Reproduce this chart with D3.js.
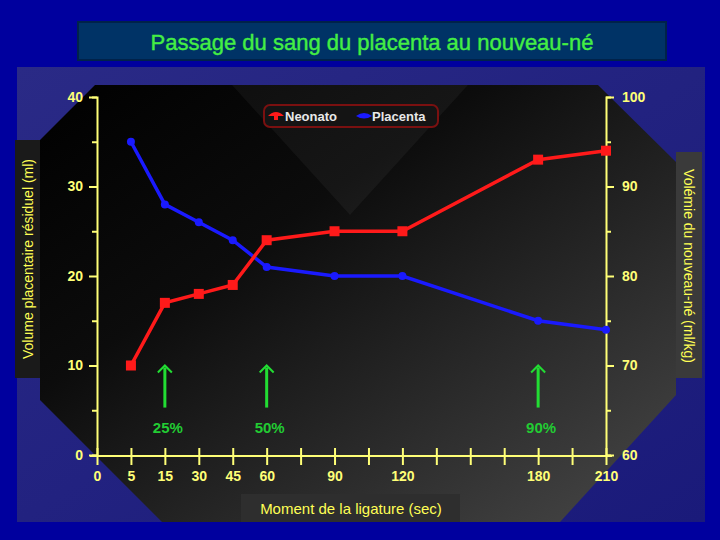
<!DOCTYPE html>
<html>
<head>
<meta charset="utf-8">
<script src="https://cdn.jsdelivr.net/npm/d3@7"></script>
<style>
  body { margin: 0; background: #00009e; }
  svg { display: block; font-family: Arial, "Liberation Sans", sans-serif; }
</style>
</head>
<body>
<div id="chart"></div>
<script>
// x categories (sec) - the axis is evenly spaced, not linear in time
var xCategories = [0, 5, 15, 30, 45, 60, 75, 90, 105, 120, 135, 150, 165, 180, 195, 210];
var xLabels = [0, 5, 15, 30, 45, 60, 90, 120, 180, 210];
var times = [5, 15, 30, 45, 60, 90, 120, 180, 210];
var neonato = [70, 77, 78, 79, 84, 85, 85, 93, 94];   // right axis (ml/kg)
var placenta = [35, 28, 26, 24, 21, 20, 20, 15, 14];  // left axis (ml)
var leftTicks = [0, 10, 20, 30, 40];
var rightTicks = [60, 70, 80, 90, 100];
var arrowTimes = [15, 60, 180];
var arrowLabels = ["25%", "50%", "90%"];

var width = 720, height = 540;

var svg = d3.select("#chart").append("svg")
    .attr("width", width)
    .attr("height", height);

var defs = svg.append("defs");
var grad = defs.append("linearGradient")
    .attr("id", "plotbg")
    .attr("x1", "0%").attr("y1", "0%")
    .attr("x2", "100%").attr("y2", "100%");
grad.append("stop").attr("offset", "0%").attr("stop-color", "#000000");
grad.append("stop").attr("offset", "35%").attr("stop-color", "#0c0c0c");
grad.append("stop").attr("offset", "100%").attr("stop-color", "#484848");

var panelGrad = defs.append("linearGradient")
    .attr("id", "panelbg")
    .attr("x1", "0%").attr("y1", "0%")
    .attr("x2", "100%").attr("y2", "100%");
panelGrad.append("stop").attr("offset", "0%").attr("stop-color", "#2a2a86");
panelGrad.append("stop").attr("offset", "100%").attr("stop-color", "#1a1a7a");

// background
svg.append("rect").attr("width", width).attr("height", height).attr("fill", "#00009e");

// title box
svg.append("rect")
    .attr("x", 78).attr("y", 22).attr("width", 588).attr("height", 38)
    .attr("fill", "#003366").attr("stroke", "#00224a").attr("stroke-width", 2);
svg.append("text")
    .attr("x", 372).attr("y", 50)
    .attr("text-anchor", "middle")
    .attr("fill", "#44ee44")
    .attr("font-size", 22)
    .attr("stroke", "#44ee44").attr("stroke-width", 0.4)
    .text("Passage du sang du placenta au nouveau-né");

// chart panel
svg.append("rect")
    .attr("x", 17).attr("y", 67).attr("width", 688).attr("height", 455)
    .attr("fill", "url(#panelbg)");

// dark octagon behind the plot
svg.append("polygon")
    .attr("points", "95,85 598,85 676,162 676,395 560,522 162,522 40,400 40,140")
    .attr("fill", "url(#plotbg)");

// lighter wedge behind the legend
svg.append("polygon")
    .attr("points", "232,85 468,85 350,215")
    .attr("fill", "#ffffff").attr("opacity", 0.045);

var x = d3.scalePoint().domain(xCategories).range([97, 606]);
var yLeft = d3.scaleLinear().domain([0, 40]).range([455, 97]);
var yRight = d3.scaleLinear().domain([60, 100]).range([455, 97]);

var axisColor = "#ffff77";

// left axis
var leftAxis = svg.append("g")
    .attr("transform", "translate(97,0)")
    .call(d3.axisLeft(yLeft).tickValues(d3.range(0, 41, 5)).tickSize(5)
        .tickFormat(function(d) { return leftTicks.indexOf(d) >= 0 ? d : ""; }));
leftAxis.selectAll(".tick line")
    .attr("x2", function(d) { return leftTicks.indexOf(d) >= 0 ? -8 : -5; });

// right axis
var rightAxis = svg.append("g")
    .attr("transform", "translate(606,0)")
    .call(d3.axisRight(yRight).tickValues(d3.range(60, 101, 5)).tickSize(5)
        .tickFormat(function(d) { return rightTicks.indexOf(d) >= 0 ? d : ""; }));
rightAxis.selectAll(".tick line")
    .attr("x2", function(d) { return rightTicks.indexOf(d) >= 0 ? 8 : 5; });

// bottom axis
var bottomAxis = svg.append("g")
    .attr("transform", "translate(0,456)")
    .call(d3.axisBottom(x).tickSize(9)
        .tickFormat(function(d) { return xLabels.indexOf(d) >= 0 ? d : ""; }));
bottomAxis.selectAll(".tick line").attr("y1", -8);
bottomAxis.select(".domain").attr("d", "M90,0H612");

[leftAxis, rightAxis, bottomAxis].forEach(function(g) {
  g.select(".domain").attr("stroke", axisColor).attr("stroke-width", 2);
  g.selectAll(".tick line").attr("stroke", axisColor).attr("stroke-width", 2);
  g.selectAll(".tick text")
      .attr("fill", axisColor)
      .attr("font-size", 14)
      .attr("font-weight", "bold")
      .attr("font-family", "Arial, 'Liberation Sans', sans-serif");
});
leftAxis.selectAll(".tick text").attr("x", -14);
rightAxis.selectAll(".tick text").attr("x", 16);
bottomAxis.selectAll(".tick text").attr("y", 15);

// series
var neoData = times.map(function(t, i) { return {t: t, v: neonato[i]}; });
var plaData = times.map(function(t, i) { return {t: t, v: placenta[i]}; });

svg.append("path")
    .datum(plaData)
    .attr("fill", "none").attr("stroke", "#1a1aff").attr("stroke-width", 3.5)
    .attr("d", d3.line().x(function(d) { return x(d.t); }).y(function(d) { return yLeft(d.v); }));
svg.selectAll(".pla")
    .data(plaData).enter().append("circle")
    .attr("cx", function(d) { return x(d.t); })
    .attr("cy", function(d) { return yLeft(d.v); })
    .attr("r", 4)
    .attr("fill", "#1a1aff");

svg.append("path")
    .datum(neoData)
    .attr("fill", "none").attr("stroke", "#ff1a1a").attr("stroke-width", 3.5)
    .attr("d", d3.line().x(function(d) { return x(d.t); }).y(function(d) { return yRight(d.v); }));
svg.selectAll(".neo")
    .data(neoData).enter().append("rect")
    .attr("x", function(d) { return x(d.t) - 5; })
    .attr("y", function(d) { return yRight(d.v) - 5; })
    .attr("width", 10).attr("height", 10)
    .attr("fill", "#ff1a1a");

// arrows
var arrowBottom = 5.3, arrowTop = 10;  // in left-axis units
arrowTimes.forEach(function(t, i) {
  var ax = x(t), y0 = yLeft(arrowBottom), y1 = yLeft(arrowTop);
  svg.append("line")
      .attr("x1", ax).attr("x2", ax).attr("y1", y0).attr("y2", y1 + 2)
      .attr("stroke", "#22dd33").attr("stroke-width", 3);
  svg.append("path")
      .attr("d", "M" + (ax - 7) + "," + (y1 + 7) + "L" + ax + "," + y1 + "L" + (ax + 7) + "," + (y1 + 7))
      .attr("fill", "none").attr("stroke", "#22dd33").attr("stroke-width", 2);
  svg.append("text")
      .attr("x", ax + 3).attr("y", y0 + 25)
      .attr("text-anchor", "middle")
      .attr("fill", "#22cc33")
      .attr("font-size", 15).attr("font-weight", "bold")
      .text(arrowLabels[i]);
});

// legend
var legend = svg.append("g");
legend.append("rect")
    .attr("x", 264).attr("y", 105).attr("width", 174).attr("height", 22).attr("rx", 6)
    .attr("fill", "#141414").attr("stroke", "#7a1010").attr("stroke-width", 2);
legend.append("path")
    .attr("d", "M268,116 Q276,108 284,116 Z")
    .attr("fill", "#ff1a1a");
legend.append("rect").attr("x", 274).attr("y", 115).attr("width", 4).attr("height", 5).attr("fill", "#ff1a1a");
legend.append("text").attr("x", 285).attr("y", 121)
    .attr("fill", "#e8e8e8").attr("font-size", 13).attr("font-weight", "bold").text("Neonato");
legend.append("path")
    .attr("d", "M356,116 Q364,110 372,116 Q364,121 356,116 Z")
    .attr("fill", "#1a1aff");
legend.append("text").attr("x", 372).attr("y", 121)
    .attr("fill", "#e8e8e8").attr("font-size", 13).attr("font-weight", "bold").text("Placenta");

// axis titles
svg.append("rect").attr("x", 15).attr("y", 140).attr("width", 25).attr("height", 238).attr("fill", "#1a1a1a");
svg.append("text")
    .attr("transform", "translate(33,259) rotate(-90)")
    .attr("text-anchor", "middle")
    .attr("fill", "#ffff55").attr("font-size", 14)
    .text("Volume placentaire résiduel (ml)");

svg.append("rect").attr("x", 676).attr("y", 152).attr("width", 26).attr("height", 226).attr("fill", "#3a3a3a");
svg.append("text")
    .attr("transform", "translate(684,266) rotate(90)")
    .attr("text-anchor", "middle")
    .attr("fill", "#ffff55").attr("font-size", 14)
    .text("Volémie du nouveau-né (ml/kg)");

svg.append("rect").attr("x", 241).attr("y", 494).attr("width", 219).attr("height", 28).attr("fill", "#2e2e2e");
svg.append("text")
    .attr("x", 351).attr("y", 514)
    .attr("text-anchor", "middle")
    .attr("fill", "#ffff55").attr("font-size", 15)
    .text("Moment de la ligature (sec)");
</script>
</body>
</html>
